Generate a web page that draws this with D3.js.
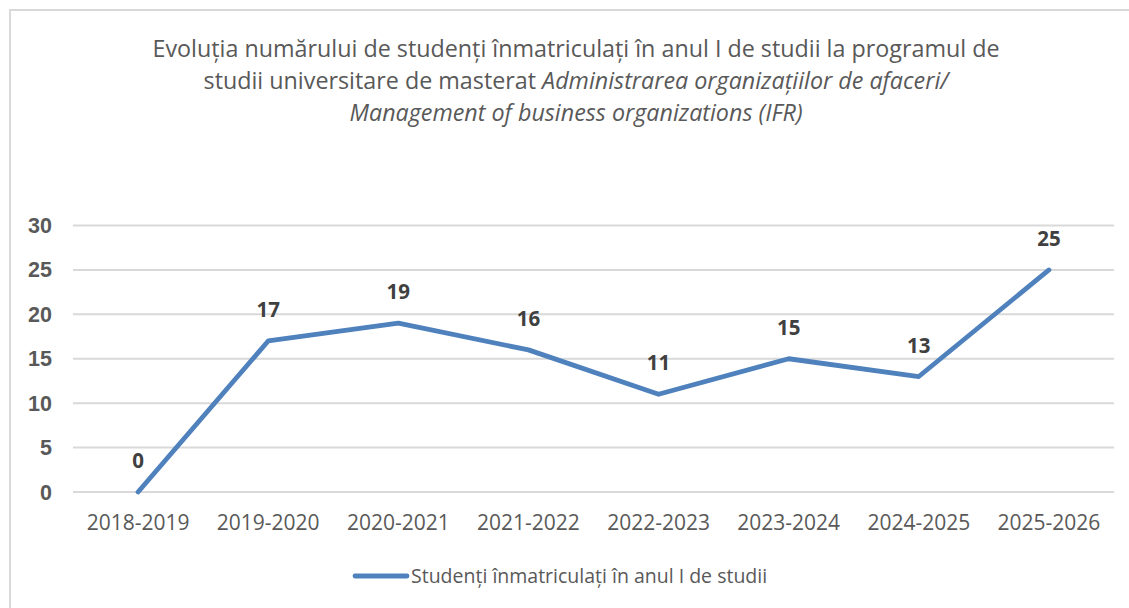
<!DOCTYPE html>
<html>
<head>
<meta charset="utf-8">
<script src="https://cdn.jsdelivr.net/npm/d3@7"></script>
<style>
  html, body { margin: 0; padding: 0; background: #fff; }
  svg { display: block; font-family: "Open Sans", "Liberation Sans", sans-serif; }
</style>
</head>
<body>
<svg width="1129" height="608"></svg>
<script>
const years = ['2018-2019', '2019-2020', '2020-2021', '2021-2022',
  '2022-2023', '2023-2024', '2024-2025', '2025-2026'];
const students = [0, 17, 19, 16, 11, 15, 13, 25];
const yTicks = [0, 5, 10, 15, 20, 25, 30];
const seriesName = 'Studenți înmatriculați în anul I de studii';

const svg = d3.select('svg');
const width = 1129;
const height = 608;

const margin = { top: 225.5, right: 15, bottom: 116, left: 73 };

const lineColor = '#4f81bd';
const textColor = '#595959';

// chart border: only top and left edges are visible in the screenshot
svg.append('path')
    .attr('d', `M10,${height} V10 H${width}`)
    .attr('fill', 'none')
    .attr('stroke', '#d9d9d9')
    .attr('stroke-width', 2);

// title
const title = svg.append('text')
    .attr('text-anchor', 'middle')
    .attr('fill', textColor)
    .attr('font-size', 23.3);
title.append('tspan')
    .attr('x', 576).attr('y', 57)
    .text('Evoluția numărului de studenți înmatriculați în anul I de studii la programul de');
const line2 = title.append('tspan')
    .attr('x', 576).attr('y', 89);
line2.append('tspan').text('studii universitare de masterat ');
line2.append('tspan').attr('font-style', 'italic')
    .text('Administrarea organizațiilor de afaceri/');
title.append('tspan')
    .attr('x', 576).attr('y', 121)
    .attr('font-style', 'italic')
    .text('Management of business organizations (IFR)');

const xScale = d3.scaleBand()
    .domain(years)
    .range([margin.left, width - margin.right])
    .padding(0);

const yScale = d3.scaleLinear()
    .domain([0, 30])
    .range([height - margin.bottom, margin.top]);

const xValue = (d, i) => xScale(years[i]) + xScale.bandwidth() / 2;

// gridlines
svg.append('g')
  .selectAll('line').data(yTicks)
  .enter().append('line')
    .attr('x1', margin.left)
    .attr('x2', width - margin.right)
    .attr('y1', d => yScale(d))
    .attr('y2', d => yScale(d))
    .attr('stroke', '#d9d9d9')
    .attr('stroke-width', 2);

// y tick labels
svg.append('g')
  .selectAll('text').data(yTicks)
  .enter().append('text')
    .attr('x', margin.left - 21)
    .attr('y', d => yScale(d))
    .attr('dy', '0.35em')
    .attr('text-anchor', 'end')
    .attr('fill', textColor)
    .attr('font-size', 21.5)
    .attr('font-weight', 'bold')
    .attr('font-family', '"Liberation Sans", sans-serif')
    .text(d => d);

// x tick labels
svg.append('g')
  .selectAll('text').data(years)
  .enter().append('text')
    .attr('x', d => xScale(d) + xScale.bandwidth() / 2)
    .attr('y', yScale(0) + 38)
    .attr('text-anchor', 'middle')
    .attr('fill', textColor)
    .attr('font-size', 21)
    .text(d => d);

// line
const line = d3.line()
    .x(xValue)
    .y(d => yScale(d));

svg.append('path')
    .datum(students)
    .attr('d', line)
    .attr('fill', 'none')
    .attr('stroke', lineColor)
    .attr('stroke-width', 4.8)
    .attr('stroke-linejoin', 'round')
    .attr('stroke-linecap', 'round');

// data labels
svg.append('g')
  .selectAll('text').data(students)
  .enter().append('text')
    .attr('x', xValue)
    .attr('y', d => yScale(d) - 24)
    .attr('text-anchor', 'middle')
    .attr('fill', '#404040')
    .attr('font-size', 20.5)
    .attr('font-weight', 'bold')
    .text(d => d);

// legend
const legend = svg.append('g')
    .attr('transform', 'translate(355,576)');
legend.append('line')
    .attr('x1', 0).attr('x2', 52)
    .attr('stroke', lineColor)
    .attr('stroke-width', 4.8)
    .attr('stroke-linecap', 'round');
legend.append('text')
    .attr('x', 56)
    .attr('dy', '0.35em')
    .attr('fill', textColor)
    .attr('font-size', 19.5)
    .text(seriesName);
</script>
</body>
</html>
